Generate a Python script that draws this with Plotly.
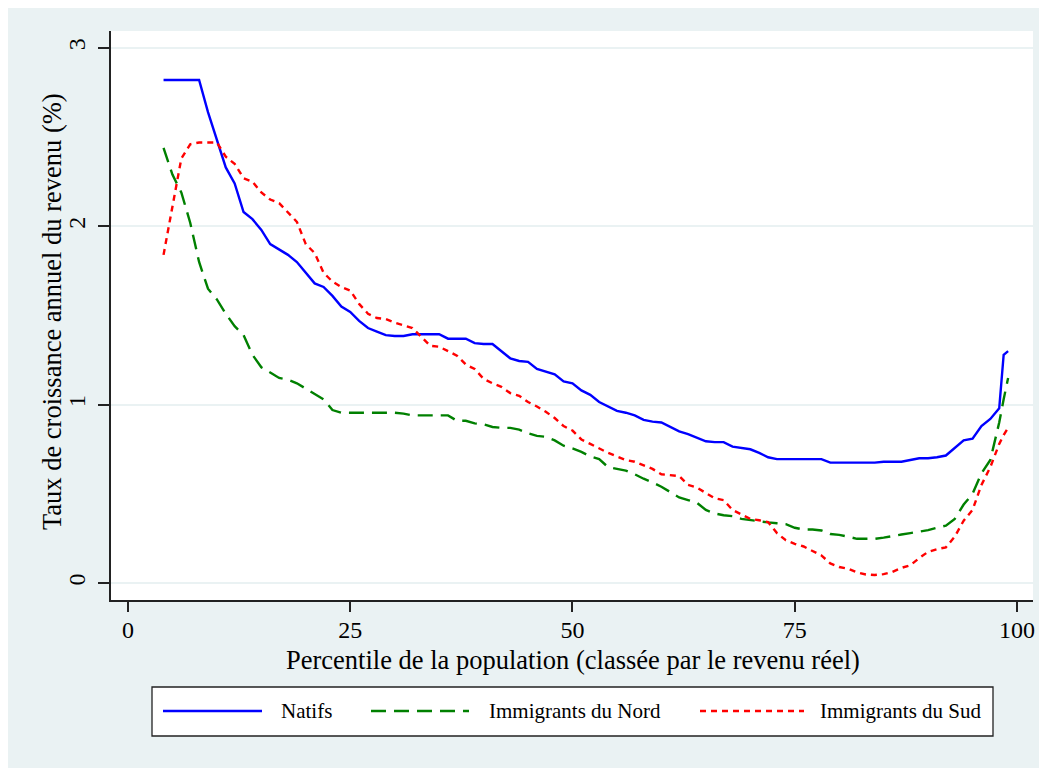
import plotly.graph_objects as go

# ---------------- data ----------------
percentiles = list(range(4, 99)) + [98.5, 99]

natifs = [
    2.82, 2.82, 2.82, 2.82, 2.82, 2.64, 2.49, 2.33, 2.24, 2.08,
    2.04, 1.98, 1.90, 1.87, 1.84, 1.80, 1.74, 1.68, 1.66, 1.61,
    1.55, 1.52, 1.47, 1.43, 1.41, 1.39, 1.385, 1.385, 1.395, 1.395,
    1.395, 1.395, 1.37, 1.37, 1.37, 1.345, 1.34, 1.34, 1.30, 1.26,
    1.245, 1.24, 1.20, 1.185, 1.17, 1.13, 1.12, 1.08, 1.055, 1.015,
    0.99, 0.965, 0.955, 0.94, 0.915, 0.905, 0.90, 0.875, 0.85, 0.835,
    0.815, 0.795, 0.79, 0.79, 0.765, 0.757, 0.75, 0.73, 0.705, 0.695,
    0.695, 0.695, 0.695, 0.695, 0.695, 0.675, 0.675, 0.675, 0.675, 0.675,
    0.675, 0.68, 0.68, 0.68, 0.69, 0.70, 0.70, 0.705, 0.715, 0.76,
    0.80, 0.81, 0.88, 0.92, 0.98,
    1.28, 1.30,
]

immigrants_nord = [
    2.44, 2.29, 2.19, 2.02, 1.80, 1.65, 1.59, 1.51, 1.44, 1.39,
    1.28, 1.21, 1.18, 1.15, 1.14, 1.12, 1.09, 1.06, 1.03, 0.97,
    0.955, 0.955, 0.955, 0.955, 0.955, 0.955, 0.955, 0.95, 0.94, 0.94,
    0.94, 0.94, 0.94, 0.91, 0.91, 0.895, 0.89, 0.875, 0.87, 0.87,
    0.86, 0.84, 0.825, 0.82, 0.80, 0.77, 0.755, 0.735, 0.71, 0.695,
    0.65, 0.64, 0.63, 0.61, 0.585, 0.565, 0.54, 0.51, 0.48, 0.465,
    0.45, 0.41, 0.39, 0.38, 0.375, 0.36, 0.352, 0.348, 0.34, 0.335,
    0.33, 0.31, 0.30, 0.30, 0.295, 0.275, 0.27, 0.26, 0.248, 0.248,
    0.248, 0.255, 0.265, 0.272, 0.28, 0.288, 0.297, 0.31, 0.322, 0.36,
    0.44, 0.50, 0.615, 0.69, 0.90,
    1.03, 1.15,
]

immigrants_sud = [
    1.84, 2.12, 2.38, 2.46, 2.47, 2.47, 2.47, 2.39, 2.35, 2.27,
    2.25, 2.19, 2.15, 2.13, 2.08, 2.025, 1.90, 1.85, 1.74, 1.69,
    1.66, 1.64, 1.565, 1.51, 1.486, 1.48, 1.46, 1.445, 1.43, 1.38,
    1.33, 1.325, 1.30, 1.275, 1.225, 1.20, 1.145, 1.12, 1.10, 1.065,
    1.05, 1.015, 0.99, 0.96, 0.925, 0.88, 0.855, 0.805, 0.78, 0.755,
    0.73, 0.71, 0.69, 0.68, 0.66, 0.64, 0.61, 0.605, 0.60, 0.55,
    0.535, 0.505, 0.475, 0.465, 0.41, 0.385, 0.36, 0.352, 0.342, 0.28,
    0.24, 0.22, 0.205, 0.18, 0.155, 0.11, 0.09, 0.08, 0.06, 0.048,
    0.045, 0.05, 0.063, 0.085, 0.10, 0.14, 0.175, 0.19, 0.20, 0.26,
    0.35, 0.41, 0.55, 0.65, 0.78,
    0.83, 0.87,
]

series_names = ["Natifs", "Immigrants du Nord", "Immigrants du Sud"]
x_tickvals = [0, 25, 50, 75, 100]
y_tickvals = [0, 1, 2, 3]
x_title = "Percentile de la population (classée par le revenu réel)"
y_title = "Taux de croissance annuel du revenu (%)"

# ---------------- styling ----------------
# the page body adds an 8px margin, so the figure is 8px smaller than the window
W, H = 1039, 760
ML, MR, MT, MB = 103, 14, 23, 168
PW, PH = W - ML - MR, H - MT - MB
BG = "#EAF2F3"
FONT = "Liberation Serif"
AXC = "#222222"

colors = ["#0000FF", "#008000", "#FF0000"]
dashes = ["solid", "15px,8px", "6px,5px"]
widths = [2.4, 2.4, 2.4]


def px_x(px):
    return (px - ML) / PW


def px_y(py):
    return (H - MB - py) / PH


fig = go.Figure()
for name, ys, c, d, w in zip(series_names, [natifs, immigrants_nord, immigrants_sud],
                             colors, dashes, widths):
    fig.add_trace(go.Scatter(
        x=percentiles, y=ys, mode="lines", name=name,
        line=dict(color=c, dash=d, width=w),
        showlegend=False, hoverinfo="x+y+name",
    ))

shapes = [
    # legend box
    dict(type="rect", xref="paper", yref="paper", x0=px_x(144), x1=px_x(985),
         y0=px_y(728), y1=px_y(679), fillcolor="white",
         line=dict(color=AXC, width=1.3)),
]
annotations = []
leg_y = px_y(703)
leg_lines = [(155, 254), (363, 461), (692, 796)]
leg_text_x = [271, 479, 810]
for (x0, x1), tx, name, c, d in zip(leg_lines, leg_text_x, series_names, colors, dashes):
    shapes.append(dict(type="line", xref="paper", yref="paper",
                       x0=px_x(x0), x1=px_x(x1), y0=leg_y, y1=leg_y,
                       line=dict(color=c, dash=d, width=2.4)))
    annotations.append(dict(xref="paper", yref="paper", x=px_x(tx), y=leg_y,
                            text=name, showarrow=False, xanchor="left", yanchor="middle",
                            font=dict(family=FONT, size=21, color="black")))

# axis titles
annotations.append(dict(xref="paper", yref="paper", x=px_x(565), y=px_y(652),
                        text=x_title, showarrow=False, xanchor="center", yanchor="middle",
                        font=dict(family=FONT, size=26.5, color="black")))
annotations.append(dict(xref="paper", yref="paper", x=px_x(44), y=px_y(304),
                        text=y_title, showarrow=False, xanchor="center", yanchor="middle",
                        textangle=-90,
                        font=dict(family=FONT, size=26.5, color="black")))

fig.update_layout(
    width=W, height=H,
    margin=dict(l=ML, r=MR, t=MT, b=MB, autoexpand=False),
    paper_bgcolor=BG, plot_bgcolor="white",
    font=dict(family=FONT, color="black"),
    shapes=shapes, annotations=annotations,
    showlegend=False,
)
fig.update_xaxes(
    range=[-1.91, 101.8], tickvals=x_tickvals, ticktext=[str(v) for v in x_tickvals],
    showgrid=False, zeroline=False,
    showline=True, linecolor=AXC, linewidth=1.5,
    ticks="outside", ticklen=10, tickwidth=1.5, tickcolor=AXC,
    ticklabelstandoff=-3,
    tickfont=dict(family=FONT, size=24, color="black"),
    automargin=False,
)
fig.update_yaxes(
    range=[-0.095, 3.095], tickvals=y_tickvals, ticktext=[str(v) for v in y_tickvals],
    showgrid=True, gridcolor=BG, gridwidth=2, zeroline=False,
    showline=True, linecolor=AXC, linewidth=1.5,
    ticks="outside", ticklen=11, tickwidth=1.5, tickcolor=AXC, tickangle=-90,
    ticklabelstandoff=4,
    tickfont=dict(family=FONT, size=24, color="black"),
    automargin=False,
)

fig.write_html("out.html")
